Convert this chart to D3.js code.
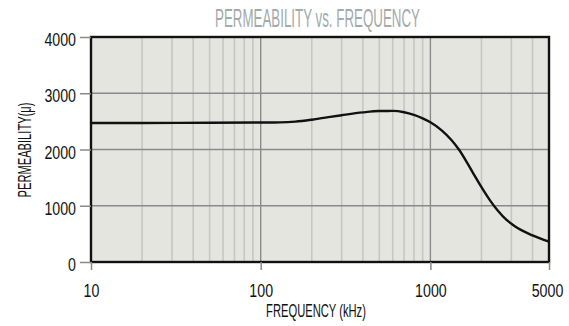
<!DOCTYPE html>
<html>
<head>
<meta charset="utf-8">
<script src="https://cdn.jsdelivr.net/npm/d3@7"></script>
<style>
  html, body { margin: 0; padding: 0; background: #ffffff; }
  svg { display: block; }
  text { font-family: "Liberation Sans", Arial, sans-serif; }
</style>
</head>
<body>
<svg id="chart" width="569" height="326"></svg>
<script>
// Permeability curve (kHz -> μ)
const freqKHz = [10, 20, 50, 100, 130, 160, 200, 250, 300, 400, 500, 600, 700, 800, 900,
                 1000, 1170, 1330, 1472, 1778, 2000, 2240, 2500, 2800, 3000, 3160, 4000, 5000];
const permeability = [2470, 2472, 2476, 2480, 2482, 2495, 2530, 2575, 2610, 2660, 2684, 2686, 2663, 2615, 2554,
                      2484, 2336, 2169, 2000, 1590, 1330, 1100, 910, 752, 680, 630, 472, 360];

const xTickValues = [10, 100, 1000, 5000];
const xTickLabels = ["10", "100", "1000", "5000"];
const yTickValues = [0, 1000, 2000, 3000, 4000];
const minorFreqs = [20, 30, 40, 50, 60, 70, 80, 90, 200, 300, 400, 500, 600, 700, 800, 900, 2000, 3000, 4000];
const majorFreqs = [100, 1000];
const gridPerm = [1000, 2000, 3000];

const titleText = "PERMEABILITY vs. FREQUENCY";
const xLabelText = "FREQUENCY (kHz)";
const yLabelText = "PERMEABILITY(μ)";

const svg = d3.select("#chart");
const plot = { left: 91, right: 549, top: 37, bottom: 262 };

const x = d3.scaleLog().domain([10, 5000]).range([plot.left, plot.right]);
const y = d3.scaleLinear().domain([0, 4000]).range([plot.bottom, plot.top]);

// squeeze a text element horizontally to a given width (condensed look)
function condense(node, width, px, py, extra) {
  const natural = node.getComputedTextLength();
  const sx = width / natural;
  node.setAttribute("x", 0);
  node.setAttribute("y", 0);
  node.setAttribute("transform", `translate(${px},${py})${extra || ""} scale(${sx},1)`);
}

// plot background
svg.append("rect")
  .attr("x", plot.left).attr("y", plot.top)
  .attr("width", plot.right - plot.left).attr("height", plot.bottom - plot.top)
  .attr("fill", "#e5e5e0");

// grid
const grid = svg.append("g");
grid.selectAll(".minor").data(minorFreqs).join("line")
  .attr("x1", d => x(d)).attr("x2", d => x(d))
  .attr("y1", plot.top).attr("y2", plot.bottom)
  .attr("stroke", "#c6c6c2").attr("stroke-width", 1.6);
grid.selectAll(".major").data(majorFreqs).join("line")
  .attr("x1", d => x(d)).attr("x2", d => x(d))
  .attr("y1", plot.top).attr("y2", plot.bottom)
  .attr("stroke", "#8a8a8a").attr("stroke-width", 1.4);
grid.selectAll(".hgrid").data(gridPerm).join("line")
  .attr("x1", plot.left).attr("x2", plot.right)
  .attr("y1", d => y(d)).attr("y2", d => y(d))
  .attr("stroke", "#8a8a8a").attr("stroke-width", 1.4);

// curve
const line = d3.line()
  .x((d, i) => x(freqKHz[i]))
  .y(d => y(d))
  .curve(d3.curveMonotoneX);
svg.append("path")
  .datum(permeability)
  .attr("d", line)
  .attr("fill", "none")
  .attr("stroke", "#111")
  .attr("stroke-width", 2.4);

// frame
svg.append("rect")
  .attr("x", plot.left).attr("y", plot.top)
  .attr("width", plot.right - plot.left).attr("height", plot.bottom - plot.top)
  .attr("fill", "none").attr("stroke", "#111").attr("stroke-width", 2.4);

const digitW = 7.9;

// y axis
const yAxis = svg.append("g")
  .attr("transform", `translate(${plot.left},0)`)
  .call(d3.axisLeft(y).tickValues(yTickValues).tickFormat(d3.format("d")).tickSize(11).tickPadding(4));
yAxis.select(".domain").remove();
yAxis.selectAll(".tick line").attr("stroke", "#8a8a8a").attr("stroke-width", 1.5);
yAxis.selectAll(".tick text")
  .attr("font-size", 19).attr("fill", "#111")
  .attr("font-family", "'Liberation Sans', Arial, sans-serif")
  .attr("dy", "0.46em")
  .each(function () { condense(this, this.textContent.length * digitW, -15, 0); });

// x axis
const xAxis = svg.append("g")
  .attr("transform", `translate(0,${plot.bottom})`)
  .call(d3.axisBottom(x).tickValues(xTickValues).tickFormat((d, i) => xTickLabels[i]).tickSize(8));
xAxis.select(".domain").remove();
xAxis.selectAll(".tick line").attr("stroke", "#8a8a8a").attr("stroke-width", 1.5);
xAxis.selectAll(".tick text")
  .attr("font-size", 19).attr("fill", "#111")
  .attr("font-family", "'Liberation Sans', Arial, sans-serif")
  .attr("dy", 0)
  .each(function (d) { condense(this, this.textContent.length * digitW, d === 5000 ? -2 : 0, 35); });

// title
svg.append("text")
  .attr("text-anchor", "middle")
  .attr("font-size", 25)
  .attr("fill", "#a2aaaa")
  .text(titleText)
  .each(function () { condense(this, 205, 317.5, 26.5); });

// x label
svg.append("text")
  .attr("text-anchor", "middle")
  .attr("font-size", 19)
  .attr("fill", "#111")
  .text(xLabelText)
  .each(function () { condense(this, 100, 316, 317); });

// y label
svg.append("text")
  .attr("text-anchor", "middle")
  .attr("font-size", 19)
  .attr("fill", "#111")
  .text(yLabelText)
  .each(function () { condense(this, 95, 30.5, 150, " rotate(-90)"); });
</script>
</body>
</html>
